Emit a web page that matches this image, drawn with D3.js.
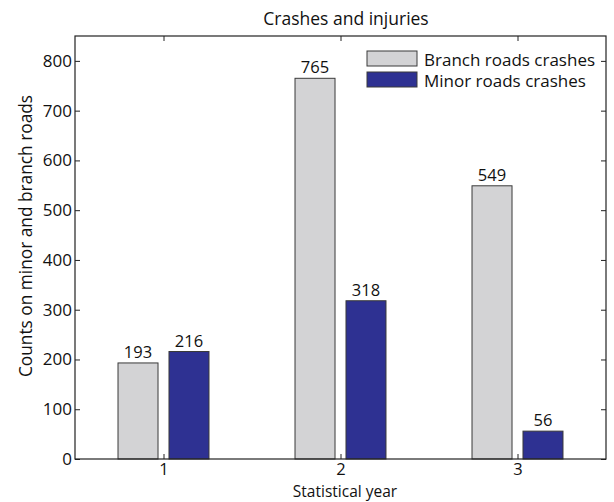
<!DOCTYPE html>
<html><head><meta charset="utf-8">
<script src="https://cdn.jsdelivr.net/npm/d3@7"></script>
<style>body{margin:0;background:#fff;} text{font-family:"Open Sans",sans-serif;fill:#111;}</style>
</head><body><svg id="c" width="614" height="502"></svg>
<script>
const categories = [1, 2, 3];
const seriesNames = ["Branch roads crashes", "Minor roads crashes"];
const branchCrashes = [193, 765, 549];
const minorCrashes = [216, 318, 56];
const yTicks = [0, 100, 200, 300, 400, 500, 600, 700, 800];
const colors = ["#d3d3d5", "#2e3192"];

const svg = d3.select("#c");
const L = 75, R = 606, T = 36, B = 459;
const x = d3.scaleLinear().domain([0.5, 3.5]).range([L, R]);
const y = d3.scaleLinear().domain([0, 850]).range([B, T]);
const bw = 0.226, off = 0.144;
const series = [branchCrashes, minorCrashes];

// bars
series.forEach((vals, si) => {
  const o = si === 0 ? -off : off;
  svg.append("g").selectAll("rect").data(vals).join("rect")
    .attr("x", (d, i) => x(categories[i] + o - bw / 2))
    .attr("width", x(bw) - x(0))
    .attr("y", d => y(d))
    .attr("height", d => y(0) - y(d))
    .attr("fill", colors[si]).attr("stroke", "#3a3a3a").attr("stroke-width", 1);
  svg.append("g").selectAll("text").data(vals).join("text")
    .attr("x", (d, i) => x(categories[i] + o))
    .attr("y", d => y(d) - 5)
    .attr("text-anchor", "middle").attr("font-size", 16.5)
    .text(d => d);
});

// axes
const tl = 5;
const gL = svg.append("g").attr("transform", `translate(${L},0)`)
  .call(d3.axisLeft(y).tickValues(yTicks).tickSize(-tl).tickPadding(3));
const gR = svg.append("g").attr("transform", `translate(${R},0)`)
  .call(d3.axisRight(y).tickValues(yTicks).tickSize(-tl).tickFormat(""));
const gB = svg.append("g").attr("transform", `translate(0,${B})`)
  .call(d3.axisBottom(x).tickValues(categories).tickSize(-tl).tickFormat(d3.format("d")));
const gT = svg.append("g").attr("transform", `translate(0,${T})`)
  .call(d3.axisTop(x).tickValues(categories).tickSize(-tl).tickFormat(""));
[gL, gR, gB, gT].forEach(g => {
  g.select(".domain").remove();
  g.selectAll("line").attr("stroke", "#222");
  g.selectAll("text").attr("font-size", 17).attr("fill", "#111").attr("font-family", "Open Sans, sans-serif");
});
gB.selectAll("text").attr("y", 16).attr("dy", null).attr("font-size", 16.5);
svg.append("rect").attr("x", L).attr("y", T).attr("width", R - L).attr("height", B - T)
  .attr("fill", "none").attr("stroke", "#222").attr("stroke-width", 1.2);

// title & labels
svg.append("text").attr("x", 346).attr("y", 25).attr("text-anchor", "middle")
  .attr("font-size", 17.5).text("Crashes and injuries");
svg.append("text").attr("x", 345).attr("y", 496.5).attr("text-anchor", "middle")
  .attr("font-size", 15.5).text("Statistical year");
svg.append("text").attr("transform", `translate(32,236) rotate(-90)`)
  .attr("text-anchor", "middle").attr("font-size", 17.3).text("Counts on minor and branch roads");

// legend
const lg = svg.append("g");
seriesNames.forEach((n, i) => {
  lg.append("rect").attr("x", 367).attr("y", 51 + i * 21).attr("width", 50).attr("height", 15)
    .attr("fill", colors[i]).attr("stroke", "#3a3a3a");
  lg.append("text").attr("x", 424).attr("y", 66 + i * 21).attr("font-size", 17).text(n);
});
</script></body></html>
